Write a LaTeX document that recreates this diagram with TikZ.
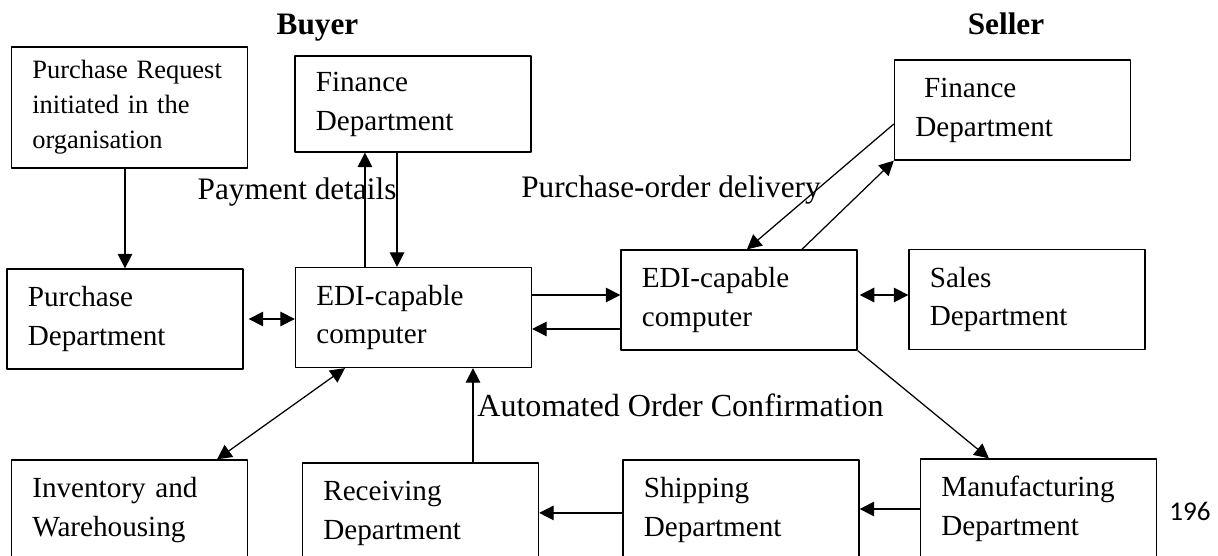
\documentclass[tikz,border=0pt]{standalone}
\usepackage{fontspec}
\setmainfont{Liberation Serif}
\newfontfamily\pagefont{Carlito}
\usetikzlibrary{arrows.meta}
\begin{document}
\begin{tikzpicture}[x=0.48pt,y=-0.48pt,line join=round,>={Triangle[length=7pt,width=7pt]},
box/.style={draw,line width=0.6pt,rectangle,minimum width=113.3pt,minimum height=48pt,inner xsep=10pt,text width=93.3pt,align=left,font=\fontsize{14}{18.7}\selectfont},
lbl/.style={anchor=base,font=\fontsize{15}{18}\selectfont},
arr/.style={->,line width=0.6pt},
darr/.style={<->,line width=0.6pt}]
\useasboundingbox (0,0) rectangle (1218,556);
\clip (0,0) rectangle (1218,556);
\node[lbl,font=\bfseries\fontsize{15}{18}\selectfont] (buyer) at (317.5,35) {Buyer};
\node[lbl,font=\bfseries\fontsize{15}{18}\selectfont] (seller) at (1006,35) {Seller};
\node[box,minimum height=58pt,font=\fontsize{12.7}{16.8}\selectfont] (req) at (129.5,107.5) {Purchase Request\\initiated in the\\organisation};
\node[box,minimum height=46pt] (finB) at (413,104) {Finance\\Department};
\node[box] (finS) at (1012.5,110) {\hspace*{.3em}Finance\\Department};
\foreach \n/\x/\y/\t in {purch/125/319/{Purchase\\Department},ediB/413.5/317.5/{EDI-capable\\computer},ediS/739/300/{EDI-capable\\computer},sales/1027/299.5/{Sales\\Department},inv/129.5/510/{Inventory and\\Warehousing},recv/420.5/513/{Receiving\\Department},ship/741/510/{Shipping\\Department},manu/1038.5/509/{Manufacturing\\Department}}
  \node[box] (\n) at (\x,\y) {\t};
\node[lbl] (paylbl) at (297,199) {Payment details};
\node[lbl] (podlbl) at (671,197) {Purchase-order delivery};
\node[lbl,font=\fontsize{15.4}{18}\selectfont] (conflbl) at (680.5,416) {Automated Order Confirmation};
\node[anchor=base,font=\pagefont\fontsize{13}{15}\selectfont] (pgno) at (1190,520) {196};
\draw[arr] (purch.north |- req.south) -- (purch.north);
\draw[arr] ([xshift=-23.3pt]ediB.north) -- ([xshift=-23.3pt]ediB.north |- finB.south);
\draw[arr] ([xshift=-7.9pt]ediB.north |- finB.south) -- ([xshift=-7.9pt]ediB.north);
\draw[darr,shorten <=2.4pt] (purch.east) -- (purch.east -| ediB.west);
\draw[arr] ([yshift=10.8pt]ediB.east) -- ([yshift=10.8pt]ediB.east -| ediS.west);
\draw[arr] ([yshift=-5.5pt]ediB.east -| ediS.west) -- ([yshift=-5.5pt]ediB.east);
\draw[darr,shorten <=1pt] ([yshift=2.4pt]ediS.east) -- ([yshift=2.4pt]ediS.east -| sales.west);
\draw[arr] ([yshift=-6.7pt]finS.west) -- ([xshift=3.8pt]ediS.north);
\draw[arr] ([xshift=30.2pt]ediS.north) -- (finS.south west);
\draw[darr] ([xshift=42pt]inv.north) -- ([xshift=-32.9pt]ediB.south);
\draw[arr] ([xshift=25.2pt]recv.north) -- ([xshift=25.2pt]recv.north |- ediB.south);
\draw[arr] ([yshift=-1.4pt]ship.west) -- ([yshift=-1.4pt]ship.west -| recv.east);
\draw[arr] (manu.west) -- (manu.west -| ship.east);
\draw[arr] (ediS.south east) -- ([xshift=-23.8pt]manu.north);
\end{tikzpicture}
\end{document}
